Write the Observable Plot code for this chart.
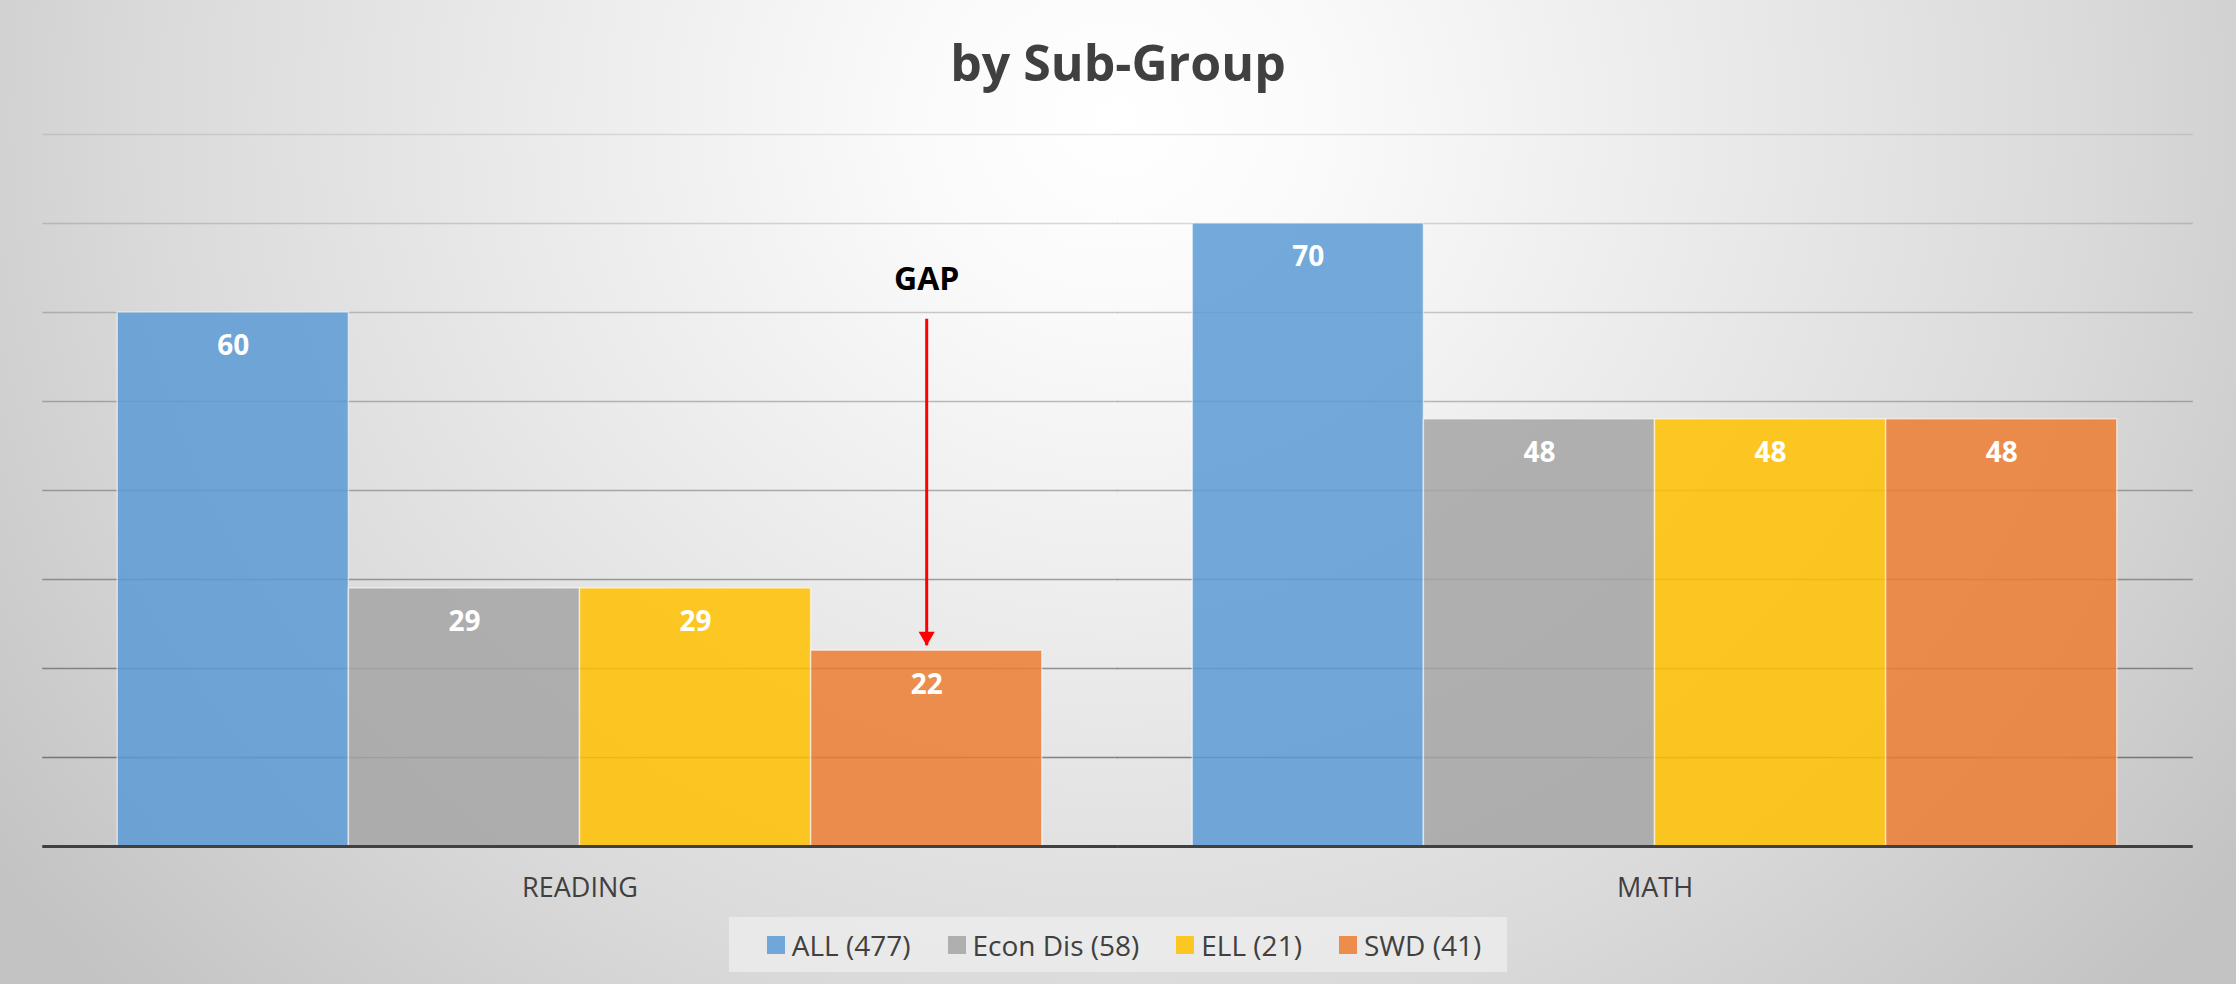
<!DOCTYPE html>
<html>
<head>
<meta charset="utf-8">
<script src="https://cdn.jsdelivr.net/npm/d3@7"></script>
<script src="https://cdn.jsdelivr.net/npm/@observablehq/plot@0.6"></script>
<style>
  html, body { margin: 0; padding: 0; }
  body { width: 2236px; height: 984px; overflow: hidden; font-family: "Open Sans", sans-serif; }
  #chart {
    position: relative; width: 2236px; height: 984px; box-sizing: border-box;
    background: radial-gradient(ellipse 62% 130% at 50% 12%, #ffffff 0%, #fafafa 15%, #e9e9e9 45%, #dadada 70%, #c3c3c3 100%);
  }
  #title {
    height: 120px; box-sizing: border-box; padding-top: 37px;
    text-align: center; font-size: 50px; line-height: 50px; font-weight: 700; color: #404040;
  }
  #plot svg { display: block; }
  #legend-wrap { text-align: center; margin-top: 1px; }
  #legend {
    display: inline-block; height: 55px; box-sizing: border-box;
    padding: 0 26px 0 38px; background: rgba(238,238,238,0.75);
  }
  #legend style { display: none !important; }
  #legend > div {
    font-family: "Open Sans", sans-serif !important; font-size: 28px !important;
    color: #404040 !important; margin: 0 !important; height: 55px;
    display: flex !important; align-items: center; flex-wrap: nowrap; white-space: nowrap;
  }
  #legend > div > :not(style) { margin-right: 37px !important; display: inline-flex !important; align-items: center; white-space: nowrap; }
  #legend > div > :not(style):last-child { margin-right: 0 !important; }
  #legend > div > :not(style) > svg { margin-right: 7px !important; flex: none; }
</style>
</head>
<body>
<div id="chart">
  <div id="title">by Sub-Group</div>
  <div id="plot"></div>
  <div id="legend-wrap"><div id="legend"></div></div>
</div>
<script>
// ---- data ----
const categories = ["READING", "MATH"];
const groups = ["ALL (477)", "Econ Dis (58)", "ELL (21)", "SWD (41)"];
const readingValues = [60, 29, 29, 22];
const mathValues = [70, 48, 48, 48];
const gridTicks = [10, 20, 30, 40, 50, 60, 70, 80];
const groupColors = ["#5B9BD5", "#A5A5A5", "#FFC000", "#ED7D31"];
const gapNote = [{category: "READING", group: "SWD (41)", label: "GAP", labelY: 63.7, from: 59.3, to: 22.6}];

const valuesByCategory = [readingValues, mathValues];
const rows = categories.flatMap((c, i) =>
  groups.map((g, j) => ({category: c, group: g, value: valuesByCategory[i][j]})));

const chart = Plot.plot({
  width: 2236,
  height: 796,
  marginTop: 14,
  marginBottom: 70,
  marginLeft: 42,
  marginRight: 44,
  style: {background: "transparent", fontFamily: '"Open Sans", sans-serif', fontSize: "27px", color: "#404040", overflow: "visible"},
  fx: {domain: categories, paddingInner: 0.14, paddingOuter: 0.07, round: false, axis: "bottom", tickSize: 0, tickPadding: 31, label: null},
  x: {domain: groups, padding: 0, round: false, axis: null},
  y: {domain: [0, 80], axis: null},
  color: {domain: groups, range: groupColors},
  opacity: {domain: [10, 80], range: [0.55, 0.12]},
  marks: [
    Plot.ruleY(gridTicks, {y: d => d, stroke: "#303030", strokeOpacity: d => d, strokeWidth: 1.6, insetLeft: -75, insetRight: -76}),
    Plot.barY(rows, {fx: "category", x: "group", y: "value", fill: "group", fillOpacity: 0.85, stroke: "white", strokeOpacity: 0.55, strokeWidth: 1.5}),
    Plot.ruleY([0], {stroke: "#404040", strokeWidth: 3, insetLeft: -75, insetRight: -76}),
    Plot.text(rows, {fx: "category", x: "group", y: "value", text: d => String(d.value), dy: 34, fill: "white", fontWeight: "bold", fontSize: 28}),
    Plot.link(gapNote, {fx: "category", x1: "group", x2: "group", y1: "from", y2: "to", stroke: "#ff0000", strokeWidth: 3}),
    Plot.dot(gapNote, {fx: "category", x: "group", y: "to", symbol: "triangle", rotate: 180, r: 6, fill: "#ff0000", dy: -9}),
    Plot.text(gapNote, {fx: "category", x: "group", y: "labelY", text: "label", fontSize: 32, fontWeight: "bold", fill: "black"})
  ]
});
document.getElementById("plot").appendChild(chart);
const leg = chart.legend("color", {swatchSize: 18, opacity: 0.85});
document.getElementById("legend").appendChild(leg);
</script>
</body>
</html>
